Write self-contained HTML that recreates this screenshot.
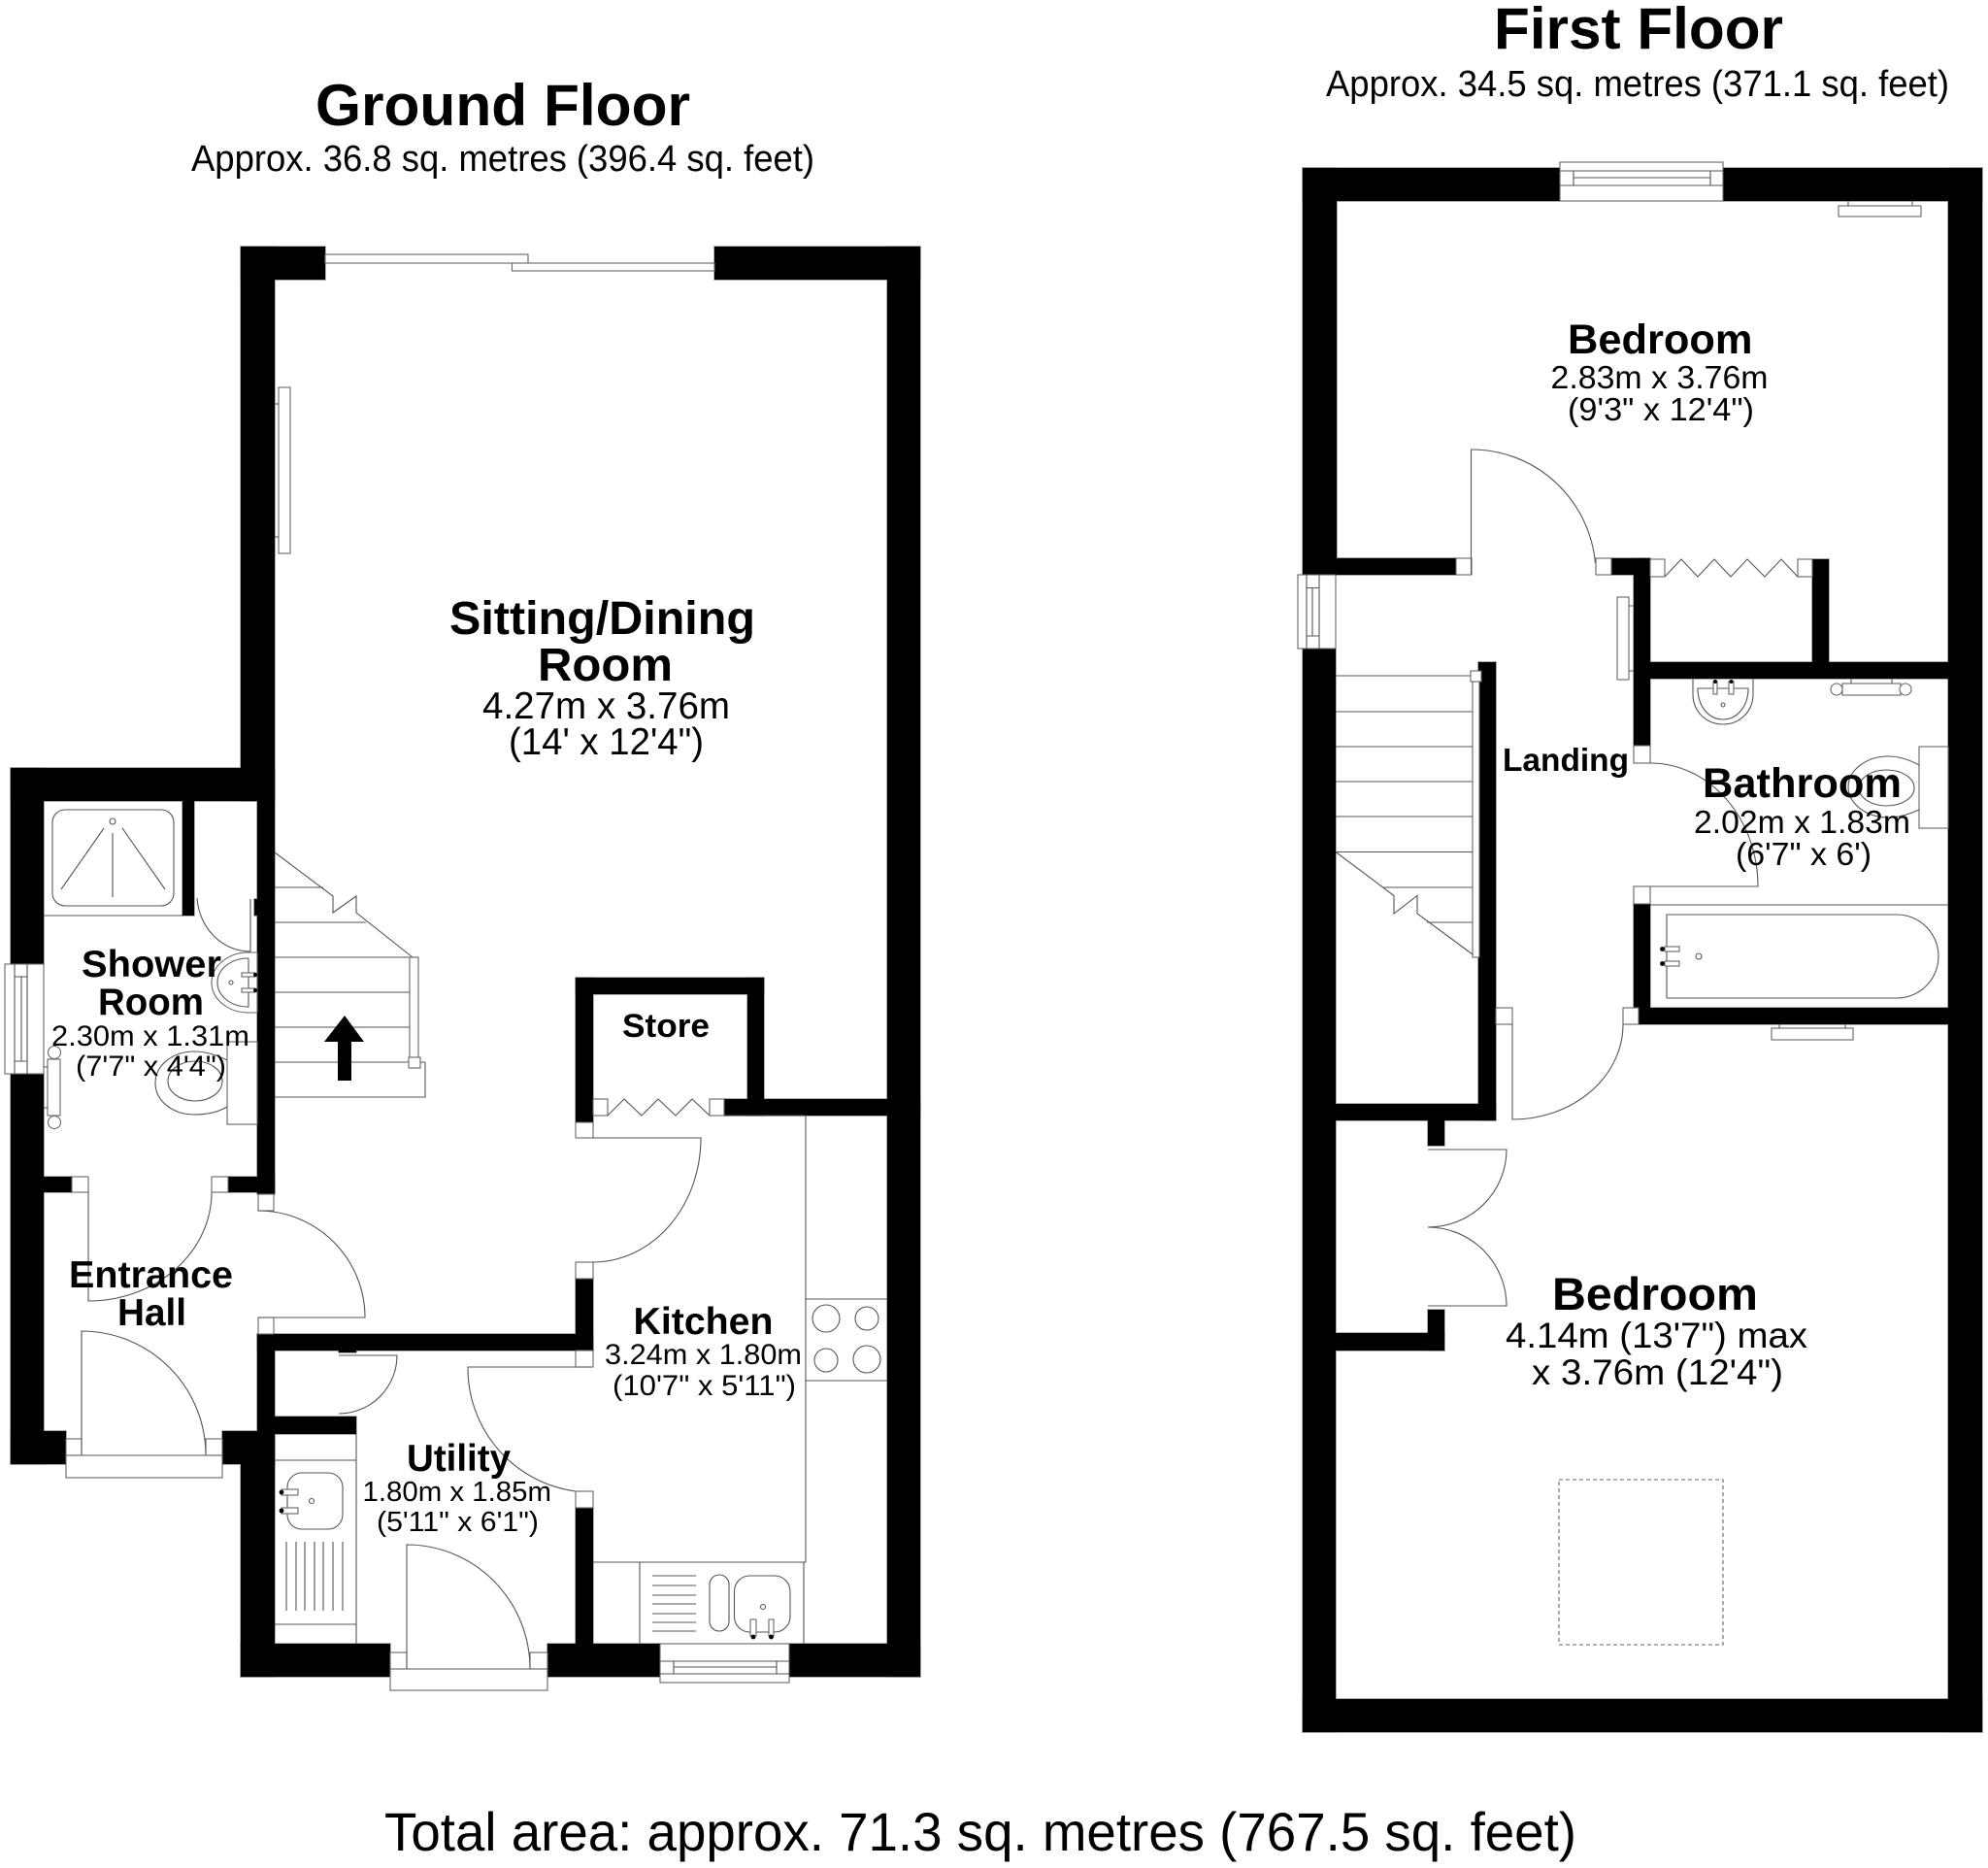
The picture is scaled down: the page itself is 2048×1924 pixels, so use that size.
<!DOCTYPE html>
<html><head><meta charset="utf-8"><title>Floor Plan</title>
<style>html,body{margin:0;padding:0;background:#fff}svg{display:block}
text{font-family:"Liberation Sans",Arial,sans-serif;fill:#000}
.b{font-weight:bold}
.l{fill:none;stroke:#555;stroke-width:1.1}
.f{fill:#fff;stroke:#666;stroke-width:1.1}
.k{fill:#000;stroke:none}
</style></head><body>
<svg xmlns="http://www.w3.org/2000/svg" width="2048" height="1924" viewBox="0 0 2048 1924">
<rect width="2048" height="1924" fill="#fff"/>
<defs><g id="walls">
<rect x="248" y="254" width="87" height="34"/>
<rect x="248" y="254" width="35" height="571"/>
<rect x="11" y="791" width="272" height="34"/>
<rect x="11" y="791" width="34" height="202"/>
<rect x="11" y="1106" width="34" height="402"/>
<rect x="265" y="825" width="18" height="405"/>
<rect x="188" y="825" width="12" height="118"/>
<rect x="262" y="926" width="3" height="17"/>
<rect x="45" y="1212" width="29" height="16"/>
<rect x="235" y="1212" width="48" height="16"/>
<rect x="11" y="1474" width="57" height="34"/>
<rect x="229" y="1474" width="54" height="34"/>
<rect x="265" y="1374" width="18" height="134"/>
<rect x="265" y="1374" width="346" height="17"/>
<rect x="283" y="1459" width="84" height="18"/>
<rect x="248" y="1508" width="35" height="219"/>
<rect x="248" y="1693" width="154" height="34"/>
<rect x="564" y="1693" width="116" height="34"/>
<rect x="813" y="1693" width="135" height="34"/>
<rect x="593" y="1553" width="18" height="140"/>
<rect x="593" y="1317" width="18" height="74"/>
<rect x="593" y="1007" width="18" height="149"/>
<rect x="593" y="1007" width="194" height="17"/>
<rect x="770" y="1007" width="17" height="142"/>
<rect x="746" y="1132" width="202" height="17"/>
<rect x="914" y="254" width="34" height="1473"/>
<rect x="736" y="254" width="212" height="34"/>
<rect x="349" y="1391" width="18" height="2"/>
<rect x="1342" y="173" width="265" height="34"/>
<rect x="1775" y="173" width="267" height="34"/>
<rect x="1342" y="173" width="35" height="419"/>
<rect x="1377" y="575" width="123" height="17"/>
<rect x="1660" y="575" width="40" height="17"/>
<rect x="1683" y="575" width="17" height="193"/>
<rect x="1867" y="576" width="17" height="106"/>
<rect x="1700" y="682" width="307" height="17"/>
<rect x="2007" y="173" width="35" height="1611"/>
<rect x="1342" y="668" width="34" height="1116"/>
<rect x="1342" y="1750" width="700" height="34"/>
<rect x="1523" y="682" width="18" height="472"/>
<rect x="1376" y="1137" width="165" height="17"/>
<rect x="1471" y="1154" width="17" height="26"/>
<rect x="1471" y="1349" width="17" height="42"/>
<rect x="1376" y="1373" width="112" height="18"/>
<rect x="1683" y="931" width="17" height="107"/>
<rect x="1688" y="1038" width="319" height="17"/>
</g></defs>
<use href="#walls" fill="#000" stroke="#888" stroke-width="1.4"/>
<use href="#walls" fill="#000"/>

<!-- Ground floor: sliding doors and radiator -->
<rect class="f" x="335" y="262" width="209" height="9"/>
<rect class="f" x="527.5" y="271" width="208.5" height="8"/>
<rect class="f" x="287" y="399" width="12" height="171"/>
<path class="l" d="M283 416H287M283 553H287"/>

<!-- Shower -->
<path class="l" d="M45 943H188"/>
<rect class="l" x="54" y="834" width="125" height="99" rx="13"/>
<circle class="l" cx="116" cy="846" r="3"/>
<path class="l" d="M107 853L63 916M116 858V924M126 853L170 916"/>
<path class="l" d="M203 925C205 955 228 980 258 980M258 926V980"/>
<path class="f" d="M265 981H256C235 981 218 995 218 1012C218 1029 235 1043 256 1043H265Z"/>
<path class="l" d="M256 987V1037C238 1037 224 1026 224 1012C224 998 238 987 256 987"/>
<rect class="f" x="249" y="1002" width="14" height="4"/><rect class="f" x="249" y="1018" width="14" height="4"/>
<circle class="k" cx="263" cy="1004" r="2"/><circle class="k" cx="263" cy="1020" r="2"/>
<circle class="l" cx="238" cy="1012" r="2"/>
<rect class="f" x="234" y="1073" width="31" height="85"/>
<path class="l" d="M234 1092C222 1086 210 1083 200 1083C178 1083 160 1097 160 1115.5C160 1134 178 1148 200 1148C212 1148 224 1146 234 1140"/>
<ellipse class="l" cx="201" cy="1113.5" rx="28" ry="20.5"/>
<rect class="f" x="5" y="993" width="40" height="113"/>
<path class="l" d="M15 993V1106M28 993V1106M22 1006V1093M15 1006H28M15 1093H28"/>
<rect class="f" x="49" y="1091" width="13" height="58"/>
<circle class="f" cx="56" cy="1084" r="6.5"/><circle class="f" cx="56" cy="1156" r="6.5"/>
<path class="l" d="M45 1099H49M45 1141H49"/>

<!-- Stairs ground -->
<path class="l" d="M283 914H333M283 950H377M283 986H422M283 1022H422M283 1058H422M283 1094H438M283 1130H438V1094"/>
<path class="l" d="M283 878L343 923V940L367 923V940L425 986"/>
<rect class="f" x="422" y="986" width="9" height="107"/>
<rect class="f" x="421" y="1089" width="12" height="11"/>
<path class="k" d="M355 1046L375 1073H362V1113H348V1073H334Z"/>

<!-- Hall doors -->
<rect class="f" x="74" y="1212" width="17" height="16"/>
<rect class="f" x="218" y="1212" width="17" height="16"/>
<path class="l" d="M91 1228V1340A127 112 0 0 0 218 1228"/>
<rect class="f" x="266" y="1230" width="16" height="17"/>
<rect class="f" x="266" y="1357" width="16" height="17"/>
<path class="l" d="M266 1247A110 110 0 0 1 376 1357H266"/>
<rect class="f" x="68" y="1482" width="16" height="17"/>
<rect class="f" x="212" y="1482" width="17" height="17"/>
<rect class="f" x="68" y="1499" width="161" height="23"/>
<path class="l" d="M84 1499V1371A128 128 0 0 1 212 1499"/>

<!-- Utility -->
<path class="l" d="M349 1396H409A60 60 0 0 1 349 1456"/>
<path class="l" d="M283 1504H367M283 1673H367M367 1477V1693"/>
<rect class="l" x="296" y="1517" width="57" height="58" rx="15"/>
<rect class="f" x="290" y="1534" width="17" height="6"/><rect class="f" x="290" y="1553" width="17" height="6"/>
<circle class="k" cx="290" cy="1537" r="2.4"/><circle class="k" cx="290" cy="1556" r="2.4"/>
<circle class="l" cx="321" cy="1546" r="2.5"/>
<path class="l" d="M295 1588V1659M305 1588V1659M314 1588V1659M324 1588V1659M333 1588V1659M343 1588V1659M353 1588V1659"/>
<rect class="f" x="402" y="1702" width="17" height="17"/>
<rect class="f" x="546" y="1702" width="18" height="17"/>
<rect class="f" x="402" y="1719" width="162" height="22"/>
<path class="l" d="M419 1719V1591A127 128 0 0 1 546 1719"/>

<!-- Kitchen door & store -->
<rect class="f" x="593" y="1391" width="18" height="17"/>
<rect class="f" x="593" y="1536" width="18" height="17"/>
<path class="l" d="M610 1408H482A128 128 0 0 0 593 1536"/>
<rect class="f" x="611" y="1132" width="15" height="17"/>
<rect class="f" x="731" y="1132" width="15" height="17"/>
<path class="l" d="M626 1149L643 1132L661 1149L678 1132L696 1149L713 1132L731 1149"/>
<rect class="f" x="593" y="1156" width="18" height="16"/>
<rect class="f" x="593" y="1300" width="18" height="17"/>
<path class="l" d="M611 1172H722A111 128 0 0 1 611 1300"/>
<path class="l" d="M746 1149H830M830 1149V1609M611 1609H830M659 1609V1693M828 1609V1693"/>
<path class="l" d="M830 1338H914M830 1422H914"/>
<circle class="l" cx="851" cy="1358" r="14"/><circle class="l" cx="893" cy="1358" r="12"/>
<circle class="l" cx="851" cy="1401" r="12"/><circle class="l" cx="893" cy="1400" r="14"/>
<path class="l" d="M672 1623H717M672 1633H717M672 1643H717M672 1652H717M672 1662H717M672 1671H717M672 1680H717"/>
<rect class="l" x="731" y="1622" width="20" height="58" rx="10"/>
<rect class="l" x="756.5" y="1623" width="57.5" height="58" rx="16"/>
<circle class="l" cx="786" cy="1655" r="2.5"/>
<rect class="f" x="773" y="1668" width="6" height="17"/><rect class="f" x="792" y="1668" width="5" height="17"/>
<circle class="k" cx="776" cy="1686" r="2.4"/><circle class="k" cx="794.5" cy="1686" r="2.4"/>
<rect class="f" x="680" y="1693" width="133" height="40"/>
<path class="l" d="M680 1711H813M680 1724H813M694 1711V1724M800 1711V1724M694 1717H800"/>

<!-- First floor -->
<rect class="f" x="1607" y="167" width="168" height="40"/>
<path class="l" d="M1607 176H1775M1607 191H1775M1621 176V191M1762 176V191M1621 183H1762"/>
<rect class="f" x="1894" y="212" width="85" height="11"/>
<path class="l" d="M1904 207V212M1970 207V212"/>
<rect class="f" x="1500" y="575" width="16" height="17"/>
<rect class="f" x="1644" y="575" width="16" height="17"/>
<path class="l" d="M1515.5 592V463A128 129 0 0 1 1643.5 580"/>
<rect class="f" x="1700" y="576" width="15" height="18"/>
<rect class="f" x="1852" y="576" width="15" height="18"/>
<path class="l" d="M1715 594L1732 576L1749 594L1766 576L1783 594L1800 576L1818 594L1835 576L1852 594"/>
<rect class="f" x="1337" y="592" width="39" height="76"/>
<path class="l" d="M1346 592V668M1359 592V668M1352 605.5V655M1346 605.5H1359M1346 655H1359"/>
<rect class="f" x="1666" y="615" width="12" height="85"/>
<path class="l" d="M1678 624H1683M1678 691H1683"/>
<path class="l" d="M1376 696H1517M1376 733H1517M1376 769H1517M1376 805H1517M1376 841H1517M1376 877.5H1517M1424 914H1517M1470 950H1517"/>
<path class="l" d="M1376 877.5L1436 922.5V941L1460 922.5V941L1517 983"/>
<rect class="f" x="1517" y="702" width="7" height="284"/>
<rect class="f" x="1515" y="691" width="11" height="11"/>
<rect class="f" x="1683" y="768" width="17" height="18"/>
<rect class="f" x="1683" y="913" width="17" height="18"/>
<path class="l" d="M1700 786A111 127 0 0 1 1811 913H1700"/>
<path class="l" d="M1700 932H2007"/>
<path class="l" d="M1717 942H1954A43 43 0 0 1 1954 1028H1717Z"/>
<rect class="f" x="1715" y="975" width="15" height="5"/><rect class="f" x="1715" y="990" width="15" height="5"/>
<circle class="k" cx="1712.5" cy="977.5" r="2.4"/><circle class="k" cx="1712.5" cy="992.5" r="2.4"/>
<circle class="l" cx="1750" cy="985" r="3"/>
<path class="l" d="M1744 699V715C1744 733 1758 746 1775 746C1792 746 1806 733 1806 715V699"/>
<path class="l" d="M1749 709H1801C1801 727 1790 741 1775 741C1760 741 1749 727 1749 709Z"/>
<rect class="f" x="1765" y="702" width="4" height="13"/><rect class="f" x="1781" y="702" width="5" height="13"/>
<circle class="k" cx="1767" cy="702" r="2"/><circle class="k" cx="1783.5" cy="702" r="2"/>
<circle class="l" cx="1775" cy="726" r="2"/>
<rect class="f" x="1898" y="704" width="60" height="12"/>
<circle class="f" cx="1892" cy="710" r="6"/><circle class="f" cx="1963" cy="710" r="6"/>
<path class="l" d="M1907 699V704M1949 699V704"/>
<rect class="f" x="1977" y="769" width="30" height="84"/>
<path class="l" d="M1977 788C1966 782 1955 779 1945 779C1923 779 1904 793 1904 810.5C1904 828 1923 842 1945 842C1956 842 1966 839 1977 834"/>
<ellipse class="l" cx="1943.5" cy="811.5" rx="28.5" ry="18.5"/>
<rect class="f" x="1825" y="1059" width="84" height="12"/>
<path class="l" d="M1833 1055V1059M1901 1055V1059"/>
<rect class="f" x="1541" y="1038" width="17" height="17"/>
<rect class="f" x="1672" y="1038" width="16" height="17"/>
<path class="l" d="M1558 1055V1153A114 98 0 0 0 1672 1055"/>
<path class="l" d="M1471 1184H1552A81 80 0 0 1 1471 1264A81 81 0 0 1 1552 1345H1471"/>
<rect x="1606" y="1524" width="169" height="170" fill="none" stroke="#666" stroke-width="1.1" stroke-dasharray="4 3"/>

<!-- Titles -->
<text class="b" x="325" y="129" font-size="60" textLength="386" lengthAdjust="spacingAndGlyphs">Ground Floor</text>
<text x="197" y="176" font-size="37.6" textLength="642" lengthAdjust="spacingAndGlyphs">Approx. 36.8 sq. metres (396.4 sq. feet)</text>
<text class="b" x="1539" y="50" font-size="60" textLength="298" lengthAdjust="spacingAndGlyphs">First Floor</text>
<text x="1366" y="99" font-size="37.6" textLength="642" lengthAdjust="spacingAndGlyphs">Approx. 34.5 sq. metres (371.1 sq. feet)</text>
<text x="396" y="1906" font-size="55.7" textLength="1228" lengthAdjust="spacingAndGlyphs">Total area: approx. 71.3 sq. metres (767.5 sq. feet)</text>

<!-- Ground labels -->
<text class="b" x="463" y="653" font-size="48" textLength="315" lengthAdjust="spacingAndGlyphs">Sitting/Dining</text>
<text class="b" x="554" y="701" font-size="48" textLength="139" lengthAdjust="spacingAndGlyphs">Room</text>
<text x="497" y="740" font-size="38.5" textLength="255" lengthAdjust="spacingAndGlyphs">4.27m x 3.76m</text>
<text x="524" y="777" font-size="38.5" textLength="201" lengthAdjust="spacingAndGlyphs">(14' x 12'4")</text>
<text class="b" x="84" y="1006" font-size="39" textLength="144" lengthAdjust="spacingAndGlyphs">Shower</text>
<text class="b" x="101" y="1045" font-size="39" textLength="109" lengthAdjust="spacingAndGlyphs">Room</text>
<text x="53" y="1077" font-size="30" textLength="204" lengthAdjust="spacingAndGlyphs">2.30m x 1.31m</text>
<text x="78" y="1108" font-size="30" textLength="155" lengthAdjust="spacingAndGlyphs">(7'7" x 4'4")</text>
<text class="b" x="71" y="1326" font-size="38.8" textLength="169" lengthAdjust="spacingAndGlyphs">Entrance</text>
<text class="b" x="121" y="1365" font-size="38.8" textLength="71" lengthAdjust="spacingAndGlyphs">Hall</text>
<text class="b" x="641" y="1068" font-size="34.4" textLength="90" lengthAdjust="spacingAndGlyphs">Store</text>
<text class="b" x="652.5" y="1374" font-size="38.5" textLength="144" lengthAdjust="spacingAndGlyphs">Kitchen</text>
<text x="623" y="1405" font-size="30" textLength="203" lengthAdjust="spacingAndGlyphs">3.24m x 1.80m</text>
<text x="631" y="1437" font-size="30" textLength="189" lengthAdjust="spacingAndGlyphs">(10'7" x 5'11")</text>
<text class="b" x="419" y="1515" font-size="38.5" textLength="107" lengthAdjust="spacingAndGlyphs">Utility</text>
<text x="373.5" y="1546" font-size="29" textLength="194.5" lengthAdjust="spacingAndGlyphs">1.80m x 1.85m</text>
<text x="388" y="1577" font-size="29" textLength="167" lengthAdjust="spacingAndGlyphs">(5'11" x 6'1")</text>

<!-- First labels -->
<text class="b" x="1615" y="364" font-size="42.8" textLength="190.5" lengthAdjust="spacingAndGlyphs">Bedroom</text>
<text x="1597.5" y="400" font-size="33.6" textLength="224" lengthAdjust="spacingAndGlyphs">2.83m x 3.76m</text>
<text x="1615" y="433" font-size="33.6" textLength="192" lengthAdjust="spacingAndGlyphs">(9'3" x 12'4")</text>
<text class="b" x="1548" y="794" font-size="33" textLength="130" lengthAdjust="spacingAndGlyphs">Landing</text>
<text class="b" x="1754" y="821" font-size="42.8" textLength="205" lengthAdjust="spacingAndGlyphs">Bathroom</text>
<text x="1745" y="858" font-size="33.6" textLength="223" lengthAdjust="spacingAndGlyphs">2.02m x 1.83m</text>
<text x="1788" y="891" font-size="33.6" textLength="140" lengthAdjust="spacingAndGlyphs">(6'7" x 6')</text>
<text class="b" x="1599" y="1349" font-size="47.6" textLength="212" lengthAdjust="spacingAndGlyphs">Bedroom</text>
<text x="1551" y="1388" font-size="37" textLength="311" lengthAdjust="spacingAndGlyphs">4.14m (13'7") max</text>
<text x="1578" y="1426" font-size="37" textLength="259" lengthAdjust="spacingAndGlyphs">x 3.76m (12'4")</text>
</svg>
</body></html>
